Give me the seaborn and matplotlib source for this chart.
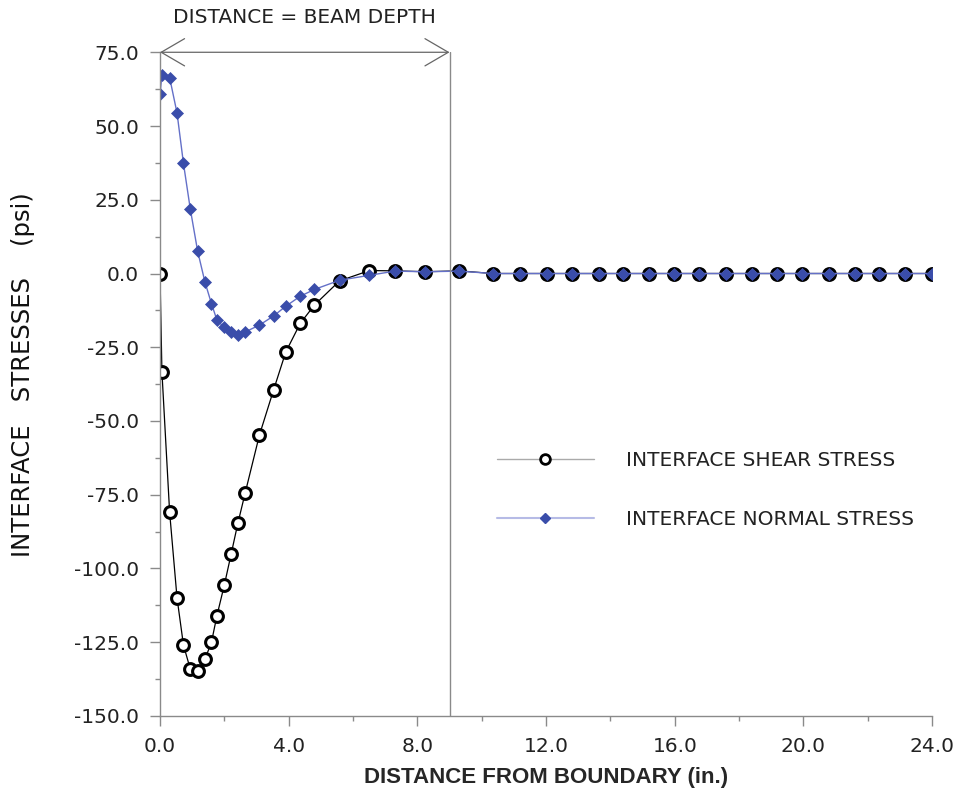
import numpy as np
import pandas as pd
import seaborn as sns
import matplotlib.pyplot as plt
from matplotlib.lines import Line2D
from matplotlib.ticker import MultipleLocator, FormatStrFormatter

# node positions along the interface (in.)
x_nodes = [0.0, 0.06, 0.30, 0.53, 0.73, 0.94, 1.17, 1.40, 1.60, 1.77,
           2.00, 2.21, 2.42, 2.65, 3.09, 3.53, 3.91, 4.36, 4.80, 5.58,
           6.51, 7.30, 8.25, 9.30, 10.34, 11.19, 12.02, 12.80, 13.63, 14.38,
           15.21, 15.99, 16.76, 17.59, 18.39, 19.17, 19.95, 20.78, 21.61, 22.36,
           23.16, 23.99]

# interface shear stress (psi)
shear = [0.0, -33.3, -81.0, -110.0, -126.0, -134.0, -134.7, -130.7, -125.0, -116.0,
         -105.6, -95.2, -84.7, -74.3, -54.8, -39.5, -26.6, -16.9, -10.7, -2.5,
         1.0, 0.9, 0.6, 0.9, 0.0, 0.0, 0.0, 0.0, 0.0, 0.0,
         0.0, 0.0, 0.0, 0.0, 0.0, 0.0, 0.0, 0.0, 0.0, 0.0,
         0.0, 0.0]

# interface normal stress (psi)
normal = [60.8, 67.2, 66.4, 54.4, 37.3, 22.0, 7.6, -3.0, -10.2, -15.8,
          -18.3, -19.8, -20.7, -19.8, -17.5, -14.4, -11.1, -7.7, -5.4, -2.3,
          -0.6, 0.8, 0.6, 0.8, 0.0, 0.0, 0.0, 0.0, 0.0, 0.0,
          0.0, 0.0, 0.0, 0.0, 0.0, 0.0, 0.0, 0.0, 0.0, 0.0,
          0.0, 0.0]

beam_depth = 9.0
labels = ['INTERFACE SHEAR STRESS', 'INTERFACE NORMAL STRESS']

blue = '#3a4daa'
blue_line = '#6470c8'
grey = '#8a8a8a'

sns.set_style('ticks')
plt.rcParams['font.family'] = ['DejaVu Sans']

df = pd.DataFrame({'x': x_nodes, 'shear': shear, 'normal': normal})

fig = plt.figure(figsize=(9.58, 7.92), dpi=100)
ax = fig.add_axes([0.167, 0.096, 0.806, 0.838])

# shear first so the normal markers sit on top in the flat part
sns.lineplot(data=df, x='x', y='shear', ax=ax, color='black', lw=0.9,
             marker='o', markersize=8.5, markerfacecolor='white',
             markeredgecolor='black', markeredgewidth=2.2)
sns.lineplot(data=df, x='x', y='normal', ax=ax, color=blue_line, lw=1.0,
             marker='D', markersize=5.8, markerfacecolor=blue,
             markeredgecolor=blue, markeredgewidth=0.5)

ax.set_xlim(0, 24)
ax.set_ylim(-150, 75)
ax.xaxis.set_major_locator(MultipleLocator(4))
ax.xaxis.set_minor_locator(MultipleLocator(2))
ax.yaxis.set_major_locator(MultipleLocator(25))
ax.yaxis.set_minor_locator(MultipleLocator(12.5))
ax.xaxis.set_major_formatter(FormatStrFormatter('%.1f'))
ax.yaxis.set_major_formatter(FormatStrFormatter('%.1f'))

for s in ['top', 'right']:
    ax.spines[s].set_visible(False)
for s in ['left', 'bottom']:
    ax.spines[s].set_color(grey)
    ax.spines[s].set_linewidth(1.0)

ax.tick_params(which='major', direction='out', length=7, width=1, color=grey,
               labelsize=14.5, labelcolor='#222222', pad=8)
ax.tick_params(which='minor', direction='out', length=3.5, width=1, color=grey)

ax.set_xlabel('DISTANCE FROM BOUNDARY (in.)', fontsize=16, fontweight='bold',
              family=['Liberation Sans', 'DejaVu Sans'], labelpad=8)
ax.set_ylabel('')
fig.text(0.0235, 0.527, 'INTERFACE   STRESSES    (psi)', rotation=90,
         ha='center', va='center', fontsize=17.5, color='#111111')

# beam depth marker
ax.axvline(beam_depth, color=grey, lw=1.0)
ax.annotate('', xy=(0, 75), xytext=(beam_depth, 75), xycoords='data',
            arrowprops=dict(arrowstyle='<->,head_length=1.2,head_width=0.7',
                            color='#666666', lw=0.9, shrinkA=0, shrinkB=0,
                            mutation_scale=14),
            annotation_clip=False)
ax.text(beam_depth / 2, 1.052, 'DISTANCE = BEAM DEPTH', transform=ax.get_xaxis_transform(),
        ha='center', va='center', fontsize=14.5, color='#222222')

handles = [
    Line2D([], [], color='#aaaaaa', lw=1.0, marker='o', markersize=7,
           markerfacecolor='white', markeredgecolor='black', markeredgewidth=2),
    Line2D([], [], color='#b6bbe6', lw=1.5, marker='D', markersize=5.5,
           markerfacecolor=blue, markeredgecolor=blue),
]
ax.legend(handles, labels, loc='upper left', bbox_to_anchor=(0.413, 0.427),
          frameon=False, fontsize=14.5, handlelength=4.8, handletextpad=1.6,
          labelspacing=2.0, labelcolor='#222222')

fig.savefig('out.png', dpi=100)
